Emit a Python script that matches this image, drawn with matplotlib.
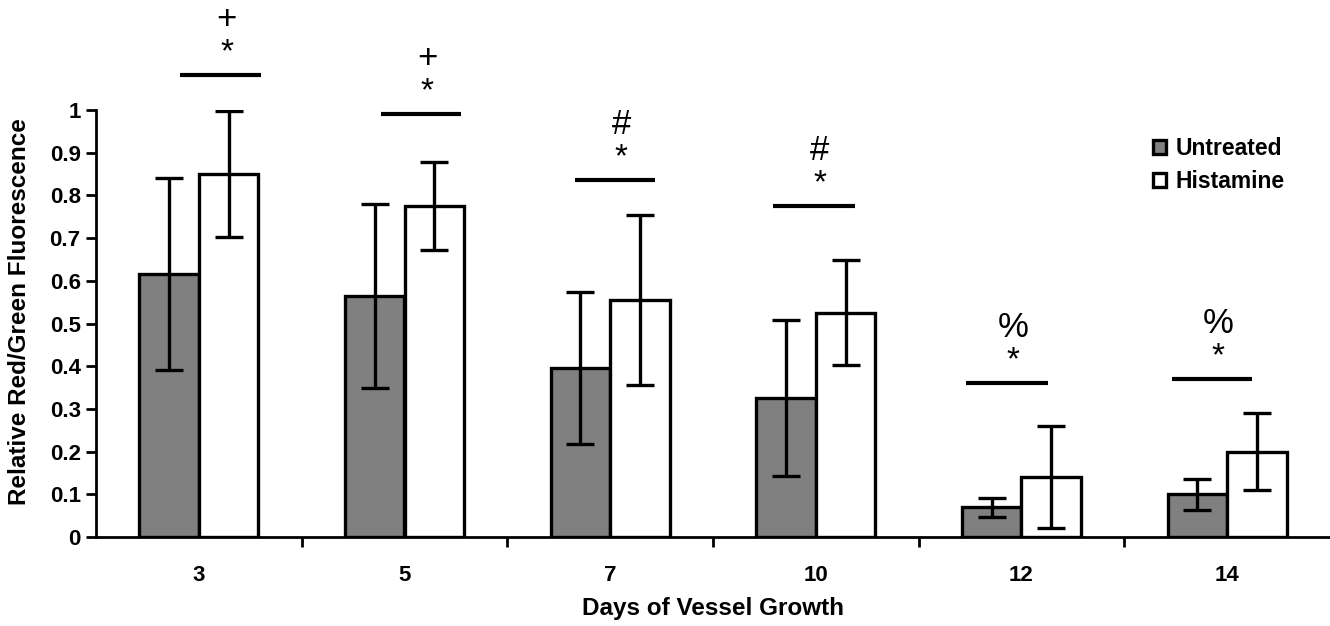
import matplotlib
matplotlib.use("Agg")
import matplotlib.pyplot as plt
import numpy as np

plt.rcParams['font.family'] = ['Liberation Sans', 'DejaVu Sans']

days = ["3", "5", "7", "10", "12", "14"]
untreated = [0.615, 0.565, 0.395, 0.325, 0.070, 0.100]
untreated_err = [0.225, 0.215, 0.178, 0.183, 0.022, 0.037]
histamine = [0.850, 0.775, 0.555, 0.525, 0.140, 0.200]
histamine_err = [0.147, 0.103, 0.198, 0.123, 0.120, 0.090]
sig_symbols = ["+", "+", "#", "#", "%", "%"]
sig_line_y = [1.082, 0.991, 0.836, 0.775, 0.360, 0.370]
sig_line_x0 = [-0.09, -0.115, -0.17, -0.21, -0.27, -0.27]
sig_line_x1 = [0.30, 0.275, 0.22, 0.19, 0.13, 0.12]
yticks = [0, 0.1, 0.2, 0.3, 0.4, 0.5, 0.6, 0.7, 0.8, 0.9, 1]
ytick_labels = ["0", "0.1", "0.2", "0.3", "0.4", "0.5", "0.6", "0.7", "0.8", "0.9", "1"]

fig = plt.figure(figsize=(13.3, 6.26), dpi=100)
ax = fig.add_axes([96/1330, 89/626, 1 - 96/1330, 427/626])

x = np.arange(len(days))
w = 0.29
ekw = dict(ecolor='black', elinewidth=2.4, capsize=10, capthick=2.4)
ax.bar(x - w/2, untreated, w, color='#808080', edgecolor='black', linewidth=2.4,
       label='Untreated', yerr=untreated_err, error_kw=ekw, zorder=2)
ax.bar(x + w/2, histamine, w, color='white', edgecolor='black', linewidth=2.4,
       label='Histamine', yerr=histamine_err, error_kw=ekw, zorder=2)

for i in range(len(days)):
    x0 = x[i] + sig_line_x0[i]
    x1 = x[i] + sig_line_x1[i]
    ax.plot([x0, x1], [sig_line_y[i]] * 2, color='black', lw=3, clip_on=False,
            solid_capstyle='butt')
    xm = (x0 + x1) / 2 + 0.03
    ax.annotate("*", (xm, sig_line_y[i]), xytext=(0, 16), textcoords='offset points',
                ha='center', va='center', fontsize=24, annotation_clip=False)
    ax.annotate(sig_symbols[i], (xm, sig_line_y[i]), xytext=(0, 40), textcoords='offset points',
                ha='center', va='center', fontsize=25, annotation_clip=False)

ax.set_xlim(-0.5, len(days) - 0.5)
ax.set_ylim(0, 1)
ax.set_yticks(yticks)
ax.set_yticklabels(ytick_labels, fontsize=16, fontweight='bold')
ax.set_xticks(x[:-1] + 0.5)
ax.set_xticklabels([])
ax.set_xticks(x, minor=True)
ax.set_xticklabels(days, minor=True, fontsize=16, fontweight='bold')
ax.tick_params(axis='x', which='major', direction='out', length=7, width=2)
ax.tick_params(axis='x', which='minor', length=0, pad=20)
ax.tick_params(axis='y', direction='out', length=7, width=2, pad=4)

for s in ['top', 'right']:
    ax.spines[s].set_visible(False)
for s in ['left', 'bottom']:
    ax.spines[s].set_linewidth(2)

ax.set_ylabel("Relative Red/Green Fluorescence", fontsize=17.5, fontweight='bold')
ax.yaxis.set_label_coords(-0.053, 0.527)
ax.set_xlabel("Days of Vessel Growth", fontsize=17.5, fontweight='bold', labelpad=8)

leg = ax.legend(loc='upper left', frameon=False, prop={'size': 16.5, 'weight': 'bold'},
                handlelength=0.55, handleheight=0.55, handletextpad=0.45, labelspacing=0.45,
                borderaxespad=0, borderpad=0)
leg.set_bbox_to_anchor((1153/1330, 489/626), transform=fig.transFigure)

fig.savefig("out.png", dpi=100)
